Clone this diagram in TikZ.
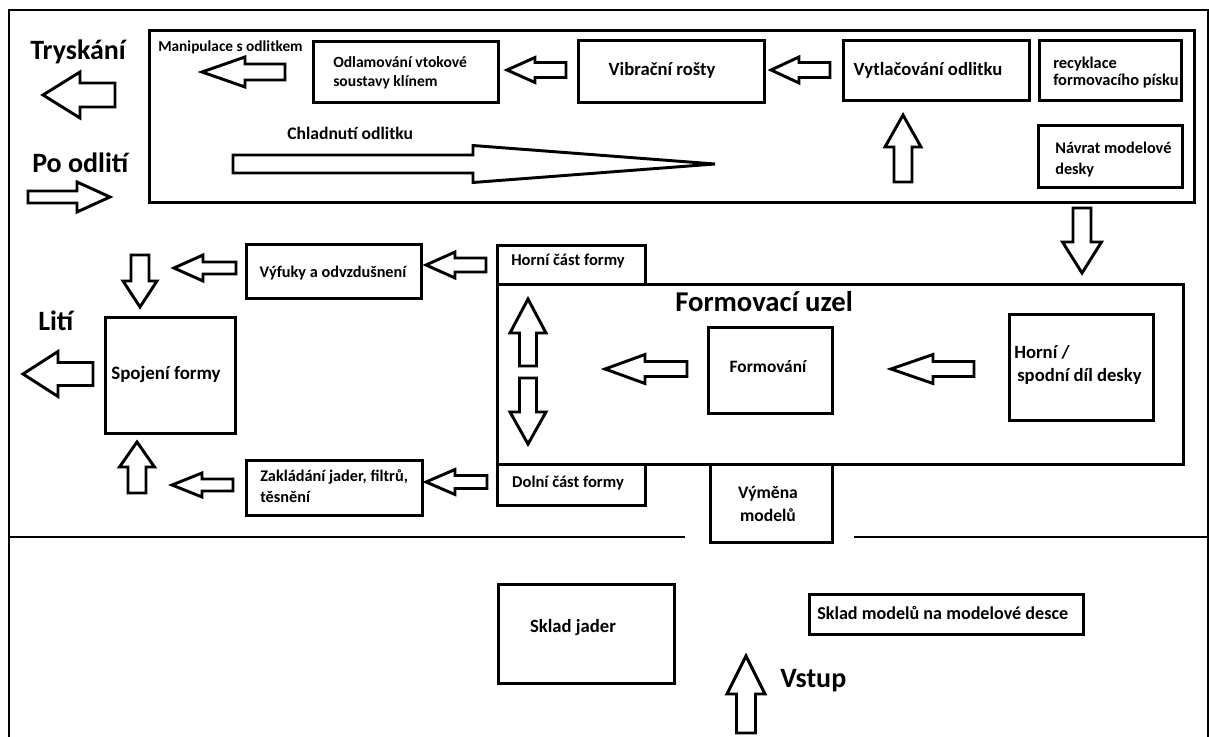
\documentclass[tikz,border=0pt]{standalone}
\usepackage{fontspec}
\setmainfont{Carlito}
\newcommand{\rbox}[5]{\node[box, minimum width={(#4-#2)*0.75pt}, minimum height={(#5-#3)*0.75pt}] (#1) at (#2,#3) {};}
\newcommand{\barr}[8]{\draw[blk, shift={(#2,#3)}, rotate=#4] (0,0) -- (-#6,#7) -- (-#6,#8) -- (-#5,#8) -- (-#5,-#8) -- (-#6,-#8) -- (-#6,-#7) -- cycle; \coordinate (#1) at (#2,#3);}
\begin{document}
\begin{tikzpicture}[x=0.75pt,y=-0.75pt,
  box/.style={draw, line width=2.2pt, inner sep=0pt, anchor=north west, rectangle},
  frameline/.style={line width=1.6pt},
  blk/.style={draw, line width=2.2pt, fill=white, line join=miter},
  t/.style={inner sep=0pt, font=\bfseries\fontsize{#1}{#1}\selectfont},
]
\useasboundingbox (0,0) rectangle (1209,737);
% outer frame and divider
\coordinate (fbl) at (9,737);
\coordinate (ftl) at (9,10);
\coordinate (ftr) at (1208,10);
\coordinate (fbr) at (1208,737);
\draw[frameline] (fbl) -- (ftl) -- (ftr) -- (fbr);
\coordinate (d1) at (9,537);
\coordinate (d2) at (685,537);
\coordinate (d3) at (854,537);
\coordinate (d4) at (1208,537);
\draw[frameline] (d1) -- (d2);
\draw[frameline] (d3) -- (d4);

% top panel
\rbox{top}{148}{29}{1193}{201}
\rbox{odlam}{312}{40}{497}{101}
\rbox{vibr}{577}{39}{763}{101}
\rbox{vytl}{842}{39}{1028}{99}
\rbox{recyk}{1038}{39}{1180}{99}
\rbox{navrat}{1037}{124}{1181}{186}

% middle
\rbox{formuz}{496}{283}{1182}{463}
\rbox{horni}{496}{244}{644}{283}
\rbox{dolni}{496}{463}{644}{504}
\rbox{vyfuky}{245}{243}{420}{297}
\rbox{spojeni}{104}{316}{234}{432}
\rbox{zaklad}{245}{459}{421}{514}
\rbox{formovani}{707}{326}{831}{412}
\rbox{deska}{1008}{313}{1152}{419}
\rbox{vymena}{709}{463}{831}{541}

% bottom
\rbox{skladj}{497}{583}{673}{682}
\rbox{skladm}{808}{593}{1082}{633}

% block arrows: name, tip x, tip y, angle, length, head length, head half, shaft half
\barr{a1}{43}{95}{180}{72}{37}{23}{12}
\barr{a2}{110}{197}{0}{82}{33}{15}{6}
\barr{a3}{202}{72}{180}{83}{43}{15}{8}
\barr{a4}{507}{70}{180}{59}{28}{12.5}{7.5}
\barr{a5}{771}{70}{180}{59}{28}{13}{7.5}
\barr{a6}{715}{164}{0}{482}{242}{18.5}{9}
\barr{a7}{903}{115}{90}{67}{32}{18}{9}
\barr{a8}{1082}{273}{-90}{65}{31}{19.5}{9}
\barr{a9}{426}{265}{180}{60}{29}{13}{7}
\barr{a10}{140}{307}{-90}{52}{26}{17}{9}
\barr{a11}{174}{268}{180}{62}{29}{13}{6}
\barr{a12}{23}{374}{180}{70}{35}{22.5}{11.5}
\barr{a13}{137}{442}{90}{51}{25}{17.5}{9}
\barr{a14}{172}{485}{180}{61}{30}{12}{6}
\barr{a15}{426}{482}{180}{61}{29}{12.5}{6.5}
\barr{a16}{528}{299}{90}{67}{34}{18}{8.5}
\barr{a17}{528}{444}{-90}{66}{32}{18}{8.5}
\barr{a18}{605}{369}{180}{82}{40}{14.5}{7.5}
\barr{a19}{891}{369}{180}{83}{42}{14.5}{7.5}
\barr{a20}{746}{656}{90}{77}{38}{19}{9.5}

% big labels
\node[t=21, anchor=base west] (tryskani) at (30,60) {Tryskání};
\node[t=21, anchor=base west] (poodliti) at (32,173) {Po odlití};
\node[t=21, anchor=base west] (liti) at (38,331) {Lití};
\node[t=21, anchor=base west] (vstup) at (780,687) {Vstup};
\node[t=21.5, anchor=base west] (fu) at (675,312) {Formovací uzel};

% box labels
\node[t=11.5, anchor=west] (manip) at (158,47) {Manipulace s odlitkem};
\node[t=11.7, anchor=west] (odl1) at (333,62) {Odlamování vtokové};
\node[t=11.7, anchor=west] (odl2) at (333,82) {soustavy klínem};
\node[t=14] (vibrt) at (662,70) {Vibrační rošty};
\node[t=14] (vytlt) at (928,70) {Vytlačování odlitku};
\node[t=12.3, anchor=west] (rec1) at (1053,64) {recyklace};
\node[t=12.3, anchor=west] (rec2) at (1053,81) {formovacího písku};
\node[t=12.2, anchor=west] (nav1) at (1055,148) {Návrat modelové};
\node[t=12.2, anchor=west] (nav2) at (1055,170) {desky};
\node[t=13.2, anchor=base west] (chlad) at (287,140) {Chladnutí odlitku};
\node[t=12.2] (vyft) at (333,273) {Výfuky a odvzdušnení};
\node[t=14.2] (spojt) at (166,374) {Spojení formy};
\node[t=12.2, anchor=west] (zak1) at (260,477) {Zakládání jader, filtrů,};
\node[t=12.2, anchor=west] (zak2) at (260,497) {těsnění};
\node[t=12.4] (hornit) at (568,261) {Horní část formy};
\node[t=12.4] (dolnit) at (568,483) {Dolní část formy};
\node[t=13] (formt) at (768,367) {Formování};
\node[t=14, anchor=west] (desk1) at (1014,352) {Horní /};
\node[t=14, anchor=west] (desk2) at (1017,376) {spodní díl desky};
\node[t=13.2] (vym1) at (768,494) {Výměna};
\node[t=13.2] (vym2) at (768,515) {modelů};
\node[t=14] (skjt) at (573,628) {Sklad jader};
\node[t=13.6, anchor=west] (skmt) at (817,613) {Sklad modelů na modelové desce};
\end{tikzpicture}
\end{document}
